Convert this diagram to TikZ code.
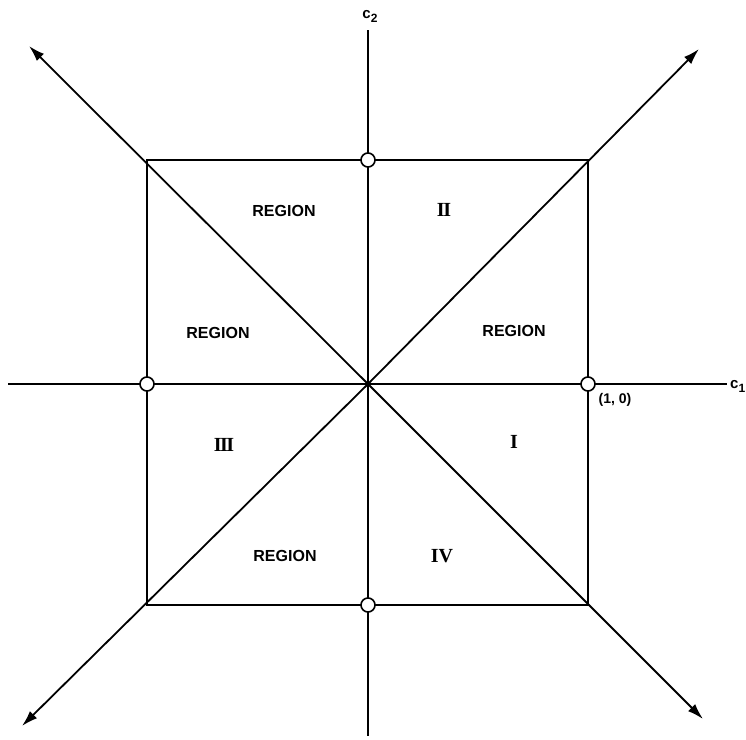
\documentclass[tikz,border=0pt]{standalone}
\usepackage{fontspec}
\setmainfont{Liberation Sans}
\newfontfamily\romfont{Liberation Serif}
\usetikzlibrary{arrows.meta}

\begin{document}
\begin{tikzpicture}[
  x=1pt,y=-1pt,
  axis/.style={line width=1.7pt},
  edge/.style={line width=2.2pt},
  ray/.style={line width=1.8pt,-{Latex[length=16pt,width=10pt]}},
  pt/.style={circle,draw,line width=1.6pt,fill=white,inner sep=0pt,minimum size=14pt},
  lbl/.style={font=\bfseries\fontsize{16}{18}\selectfont},
  ax/.style={font=\bfseries\fontsize{15}{17}\selectfont,inner sep=1pt},
  rom/.style={font=\romfont\bfseries\fontsize{20}{22}\selectfont}
]
\useasboundingbox (0,0) rectangle (746,739);

% axes
\coordinate (O) at (368,384);
\coordinate (xl) at (8,384);
\coordinate (xr) at (727,384);
\coordinate (yt) at (368,30);
\coordinate (yb) at (368,736);
\draw[axis] (xl) -- (xr);
\draw[axis] (yt) -- (yb);
\node[ax,anchor=base west] (c1) at (729,388) {c\raisebox{-4pt}{\fontsize{12}{12}\selectfont 1}};
\node[ax,anchor=base] (c2) at (370,18) {c\raisebox{-4pt}{\fontsize{12}{12}\selectfont 2}};

% square
\coordinate (A) at (147,160);
\coordinate (B) at (588,160);
\coordinate (C) at (588,605);
\coordinate (D) at (147,605);
\draw[edge] (A) -- (B) -- (C) -- (D) -- cycle;

% diagonals
\coordinate (tl) at (29,46);
\coordinate (tr) at (699,49);
\coordinate (bl) at (22,726);
\coordinate (br) at (703,719);
\draw[ray] (O) -- (tl);
\draw[ray] (O) -- (tr);
\draw[ray] (O) -- (bl);
\draw[ray] (O) -- (br);

% marked points
\node[pt] (p1) at (588,384) {};
\node[pt] (p2) at (368,160) {};
\node[pt] (p3) at (147,384) {};
\node[pt] (p4) at (368,605) {};
\node[ax,font=\bfseries\fontsize{14}{16}\selectfont] (p1l) at (615,400) {(1, 0)};

% region labels
\node[lbl] (r1) at (284,211) {REGION};
\node[rom] (n2) at (444,210) {I\kern-1.5pt I};
\node[lbl] (r2) at (218,333) {REGION};
\node[lbl] (r3) at (514,331) {REGION};
\node[rom] (n3) at (224,445) {I\kern-1.5pt I\kern-1.5pt I};
\node[rom] (n1) at (514,442) {I};
\node[lbl] (r4) at (285,556) {REGION};
\node[rom] (n4) at (442,556) {IV};
\end{tikzpicture}
\end{document}
